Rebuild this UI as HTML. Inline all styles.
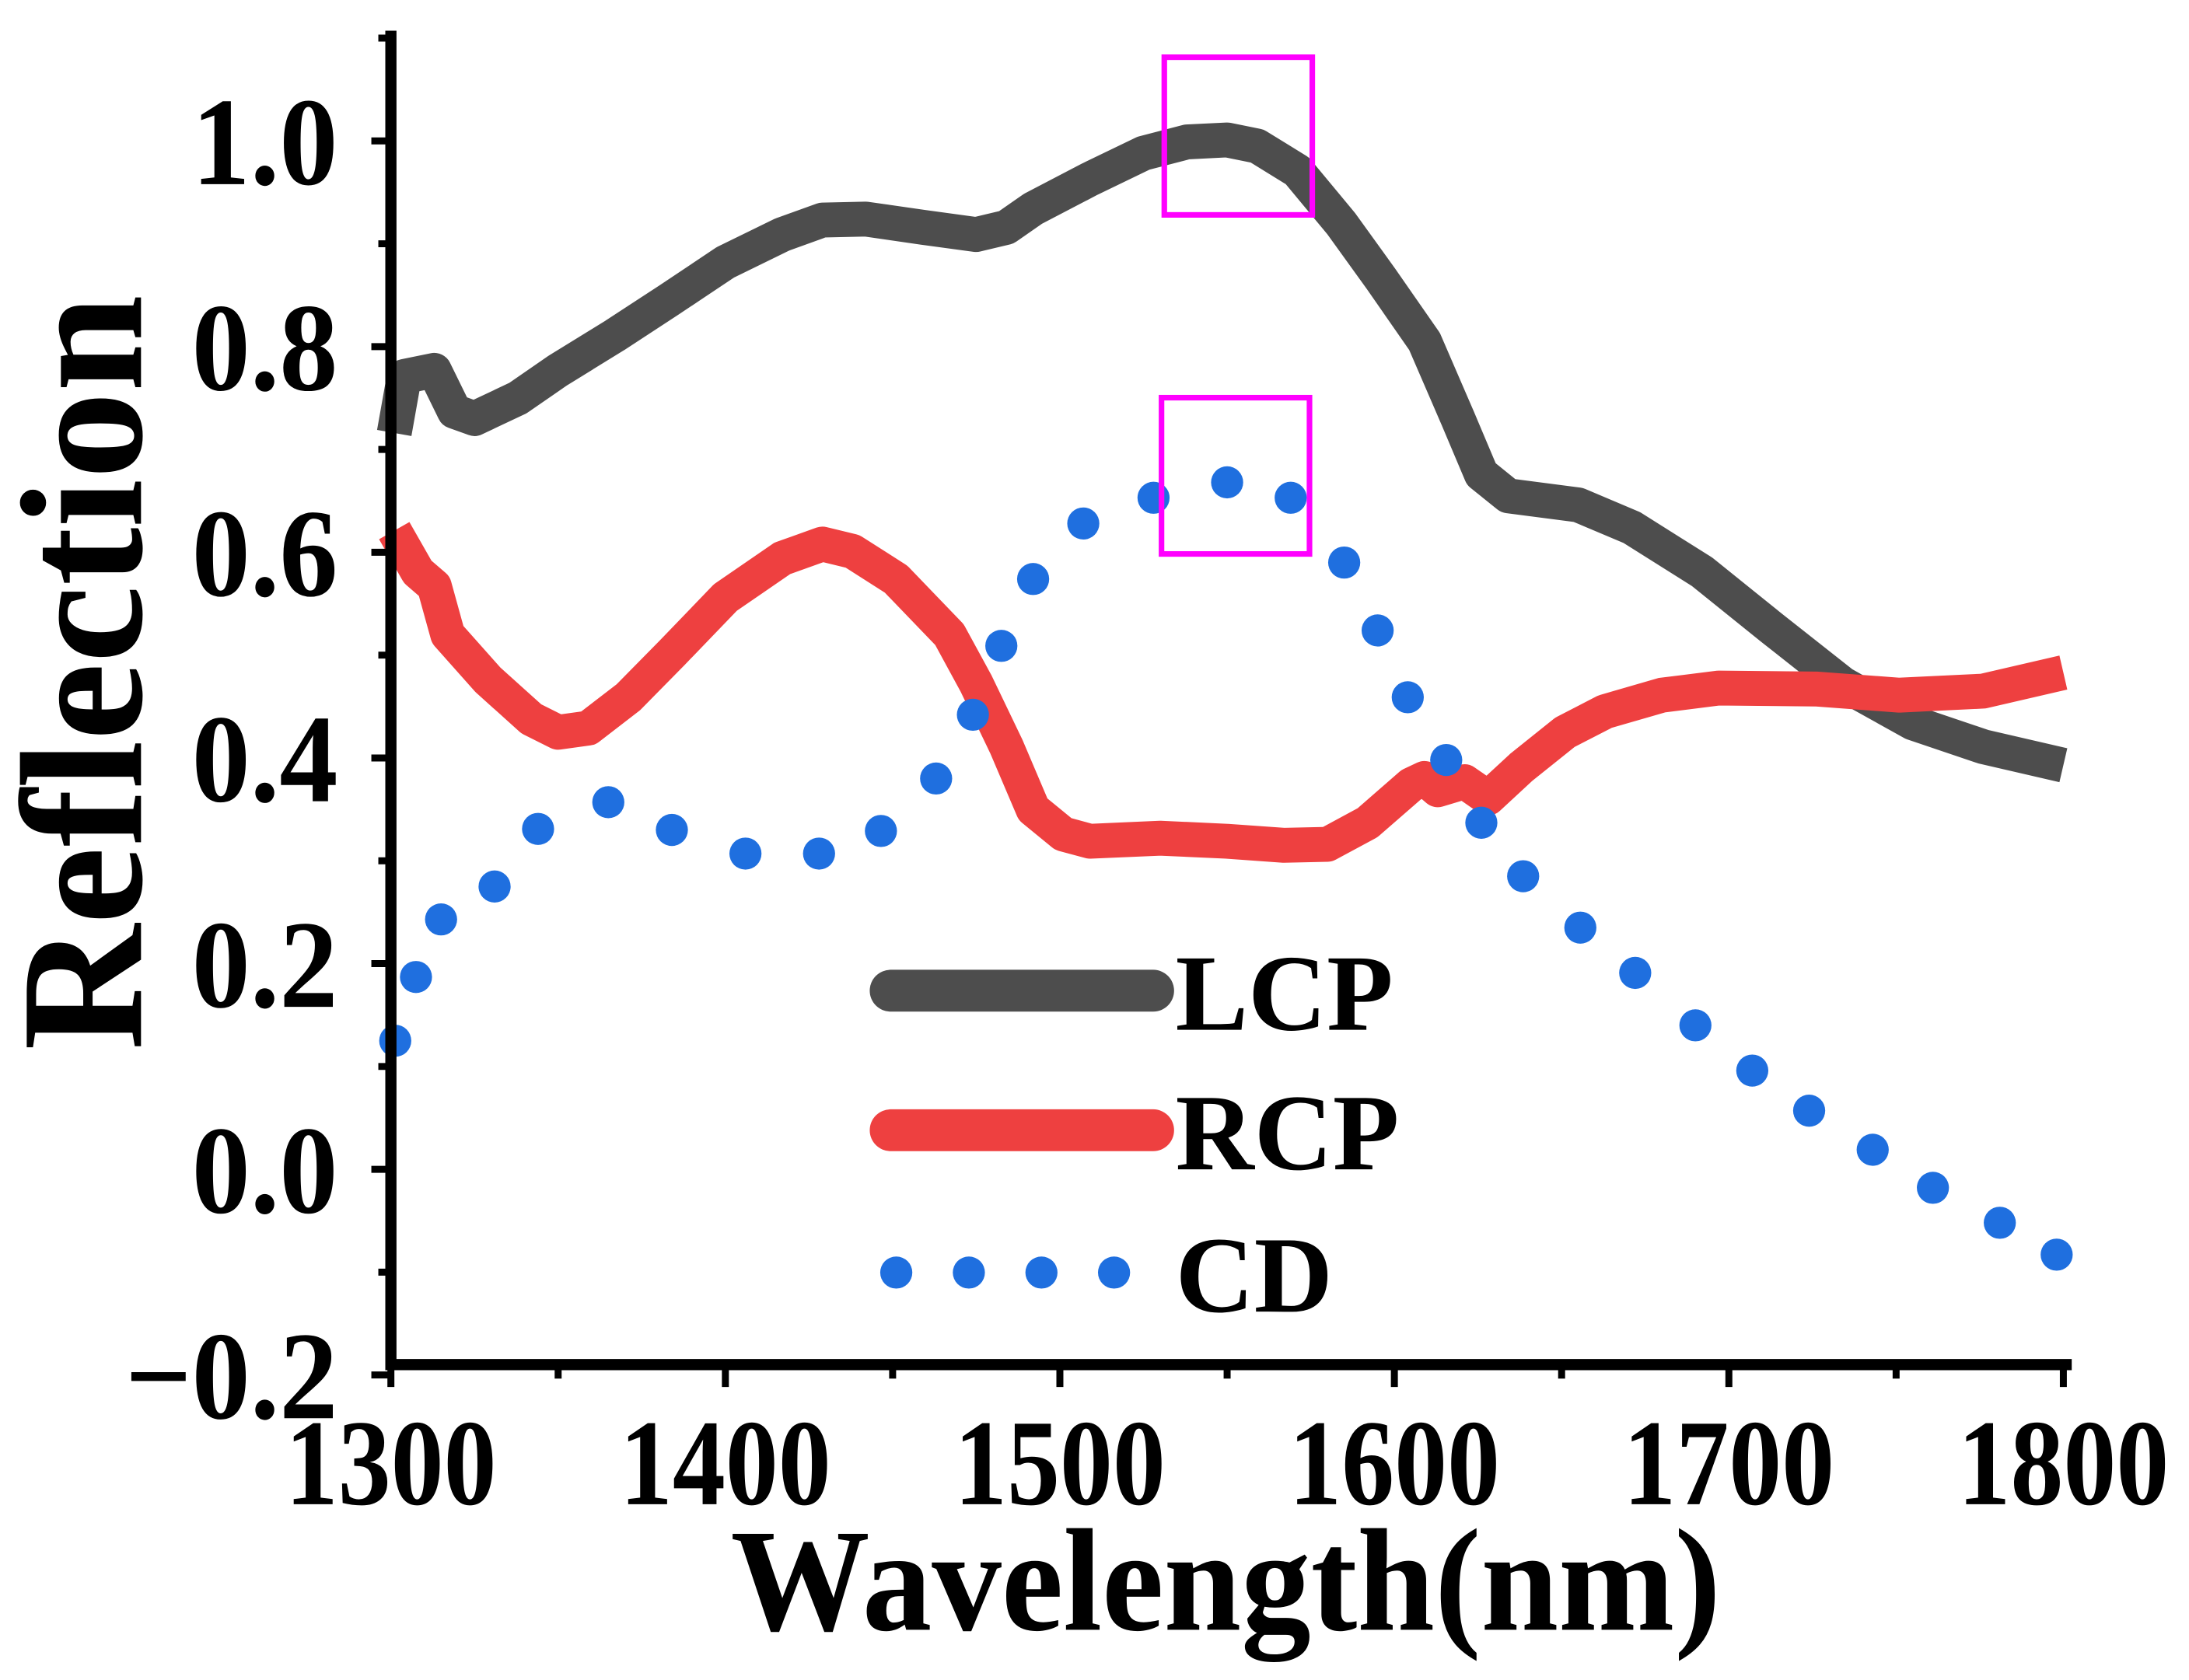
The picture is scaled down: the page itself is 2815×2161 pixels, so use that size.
<!DOCTYPE html>
<html><head><meta charset="utf-8"><style>
html,body{margin:0;padding:0;background:#fff;}
svg{display:block;}
text{font-family:"Liberation Serif",serif;font-weight:bold;fill:#000;}
</style></head><body>
<svg id="chart" width="2815" height="2161" viewBox="0 0 1568 1204" preserveAspectRatio="none" xmlns="http://www.w3.org/2000/svg">
<g id="marks"></g>
<g id="axes"></g>
<rect x="834" y="41" width="106" height="113" fill="none" stroke="#ff00ff" stroke-width="4"/>
<rect x="832" y="285" width="106" height="112" fill="none" stroke="#ff00ff" stroke-width="4"/>
<text transform="translate(101,482) rotate(-90)" text-anchor="middle" font-size="125">Reflection</text>
<text transform="translate(878,1168) scale(0.95,1)" text-anchor="middle" font-size="105">Wavelength(nm)</text>
<g>
<line x1="638" y1="710" x2="826" y2="710" stroke="#4d4d4d" stroke-width="30" stroke-linecap="round"/>
<text x="842" y="738" font-size="78">LCP</text>
<line x1="638" y1="810" x2="826" y2="810" stroke="#ee4040" stroke-width="30" stroke-linecap="round"/>
<text x="842" y="838" font-size="78">RCP</text>
<circle cx="642" cy="912" r="11.5" fill="#1f6fdf"/>
<circle cx="694" cy="912" r="11.5" fill="#1f6fdf"/>
<circle cx="746" cy="912" r="11.5" fill="#1f6fdf"/>
<circle cx="798" cy="912" r="11.5" fill="#1f6fdf"/>
<text x="842" y="940" font-size="78">CD</text>
</g>
</svg>
<script>
const lcpX=[1301,1304,1313,1319,1325,1338,1350,1367,1383,1400,1417,1429,1442,1459,1475,1484,1492,1509,1525,1538,1550,1559,1571,1584,1596,1609,1619,1626,1634,1655,1671,1692,1713,1734,1755,1776,1800];
const lcpY=[.716,.771,.777,.737,.730,.750,.777,.811,.845,.882,.909,.923,.924,.916,.909,.916,.934,.963,.988,.999,1.001,.995,.971,.920,.866,.805,.730,.676,.655,.646,.624,.581,.526,.472,.434,.411,.393];
const rcpX=[1301,1308,1313,1317,1329,1342,1350,1359,1371,1384,1400,1417,1429,1438,1451,1467,1475,1484,1492,1501,1509,1530,1550,1567,1580,1592,1605,1609,1613,1621,1628,1638,1651,1663,1680,1697,1726,1751,1776,1800];
const rcpY=[.621,.581,.567,.520,.476,.438,.425,.429,.459,.502,.556,.594,.608,.601,.574,.520,.472,.411,.350,.326,.319,.322,.319,.315,.316,.337,.374,.380,.369,.377,.361,.391,.425,.445,.461,.468,.467,.461,.465,.483];
const cdX=[1301.3,1307.5,1315,1331,1344,1365,1384,1406,1428,1446.5,1463,1474,1482.5,1492,1507,1528,1550,1569,1585,1595,1604,1615.5,1626,1638.5,1655.6,1672,1690,1707,1724,1743,1761,1781,1798];
const cdY=[.125,.187,.243,.275,.331,.357,.330,.307,.307,.329,.380,.442,.509,.574,.628,.653,.668,.653,.590,.524,.459,.398,.337,.285,.235,.191,.140,.096,.057,.019,-.018,-.052,-.083];
const xTicks=[1300,1400,1500,1600,1700,1800];
const yTicks=[-0.2,0,0.2,0.4,0.6,0.8,1.0];
const yLabels=["\u22120.2","0.0","0.2","0.4","0.6","0.8","1.0"];

const NS="http://www.w3.org/2000/svg";
const sx=v=>280+(v-1300)*2.396;
const sy=v=>838-v*737;
const marks=document.getElementById('marks');
const axes=document.getElementById('axes');
function mk(tag,attrs,parent){const e=document.createElementNS(NS,tag);for(const k in attrs)e.setAttribute(k,attrs[k]);parent.appendChild(e);return e;}

function line(xs,ys,color,name){
  const d=xs.map((x,i)=>(i?'L':'M')+sx(x).toFixed(1)+','+sy(ys[i]).toFixed(1)).join(' ');
  const p=mk('path',{d:d,fill:'none',stroke:color,'stroke-width':25,'stroke-linejoin':'round'},marks);
  
  
}
line(lcpX,lcpY,'#4d4d4d','lcp-line');
line(rcpX,rcpY,'#ee4040','rcp-line');
cdX.forEach((x,i)=>{
  const c=mk('circle',{cx:sx(x),cy:sy(cdY[i]),r:11.5,fill:'#1f6fdf'},marks);
  
  
});

const ya=mk('line',{x1:280,y1:22,x2:280,y2:982,stroke:'#000','stroke-width':8},axes);


const xa=mk('line',{x1:276,y1:978,x2:1484,y2:978,stroke:'#000','stroke-width':8},axes);


for(let v=-0.2;v<=1.11;v+=0.1){
  const major=Math.abs(Math.round(v*10)%2)===0;
  const t=mk('line',{x1:280-(major?14:9),y1:sy(v),x2:280,y2:sy(v),stroke:'#000','stroke-width':5},axes);
  
  
}
yTicks.forEach((v,i)=>{
  const t=mk('text',{transform:'translate(242,'+(sy(v)+31)+') scale(0.93,1)','text-anchor':'end','font-size':90},axes);
  t.textContent=yLabels[i];
  
  
});
for(let v=1300;v<=1800;v+=50){
  const major=v%100===0;
  const t=mk('line',{x1:sx(v),y1:978,x2:sx(v),y2:978+(major?16:10),stroke:'#000','stroke-width':5},axes);
  
  
}
xTicks.forEach(v=>{
  const t=mk('text',{transform:'translate('+sx(v)+',1078) scale(0.86,1)','text-anchor':'middle','font-size':88},axes);
  t.textContent=v;
  
  
});
</script>
</body></html>
